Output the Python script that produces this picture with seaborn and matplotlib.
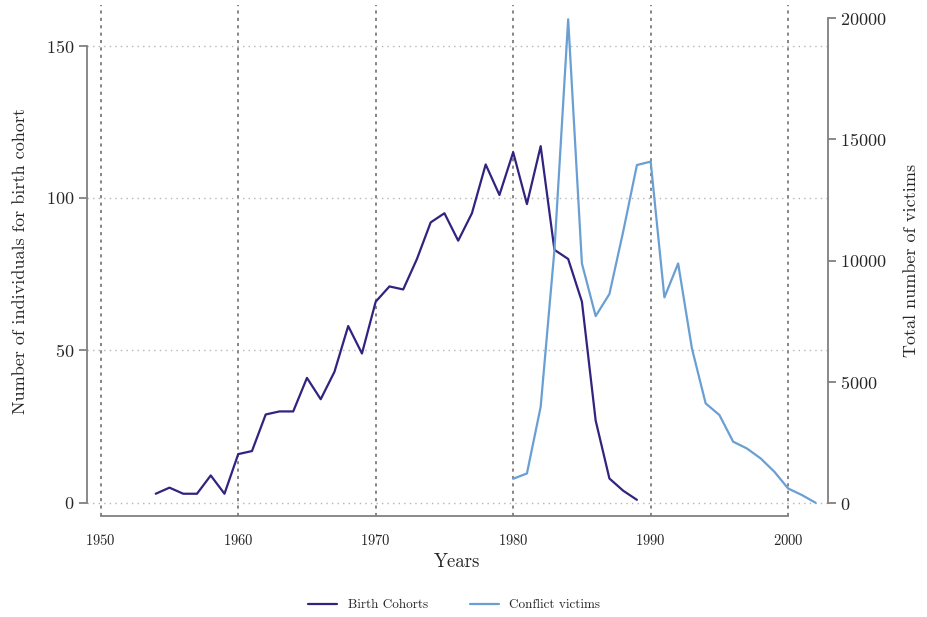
import pandas as pd
import seaborn as sns
import matplotlib.pyplot as plt

# Birth cohort counts per year (left axis)
cohort_years = list(range(1954, 1990))
cohort_counts = [3, 5, 3, 3, 9, 3, 16, 17, 29, 30, 30, 41, 34, 43, 58, 49,
                 66, 71, 70, 80, 92, 95, 86, 95, 111, 101, 115, 98, 117, 83,
                 80, 66, 27, 8, 4, 1]

# Conflict victims per year (right axis)
victim_years = list(range(1980, 2003))
victim_counts = [1000, 1220, 3970, 10430, 19950, 9880, 7710, 8620, 11190,
                 13940, 14080, 8480, 9880, 6380, 4110, 3630, 2530, 2250,
                 1840, 1290, 600, 330, 10]

cohorts = pd.DataFrame({"year": cohort_years, "n": cohort_counts})
victims = pd.DataFrame({"year": victim_years, "n": victim_counts})

sns.set_style("white")
plt.rcParams["font.family"] = "serif"
plt.rcParams["font.serif"] = ["cmr10", "DejaVu Serif"]
plt.rcParams["axes.formatter.use_mathtext"] = True
plt.rcParams["mathtext.fontset"] = "cm"

fig = plt.figure(figsize=(9.27, 6.17), dpi=100)
ax = fig.add_axes([87 / 927, 1 - 516 / 617, (828 - 87) / 927, (516 - 5) / 617])
ax2 = ax.twinx()

c_birth = "#31237f"
c_vict = "#6a9fd3"

sns.lineplot(data=cohorts, x="year", y="n", ax=ax, color=c_birth, lw=1.6,
             label="Birth Cohorts", legend=False)
sns.lineplot(data=victims, x="year", y="n", ax=ax2, color=c_vict, lw=1.6,
             label="Conflict victims", legend=False)

ax.set_xlim(1949.0, 2002.9)
ax.set_ylim(-4.3, 163.3)
ax2.set_ylim(-535, 20540)

# grid lines
for yv in [0, 50, 100, 150]:
    ax.axhline(yv, color="#b5b5b5", lw=1, ls=(0, (1, 3)), zorder=0)
for xv in range(1950, 2001, 10):
    ax.axvline(xv, color="#858585", lw=1.4, ls=(0, (1.6, 2.2)), zorder=0)

ax.set_xticks(range(1950, 2001, 10))
ax.set_yticks([0, 50, 100, 150])
ax2.set_yticks([0, 5000, 10000, 15000, 20000])

for a in (ax, ax2):
    for s in a.spines.values():
        s.set_color("#808080")
        s.set_linewidth(1.3)
    a.spines["top"].set_visible(False)
ax.spines["right"].set_visible(False)
ax2.spines["left"].set_visible(False)
ax2.spines["bottom"].set_visible(False)
ax.spines["left"].set_bounds(0, 150)
ax2.spines["right"].set_bounds(0, 20000)
ax.spines["bottom"].set_bounds(1950, 2000)

ax.tick_params(axis="x", direction="out", length=6, width=1.3, color="#808080",
               labelsize=10.5, pad=6)
ax.tick_params(axis="y", direction="out", length=6, width=1.3, color="#808080",
               labelsize=13, pad=3)
ax2.tick_params(axis="y", direction="out", length=6, width=1.3, color="#808080",
                labelsize=13, pad=3)

ax.set_xlabel("Years", fontsize=13.5, labelpad=4)
ax.set_ylabel("Number of individuals for birth cohort", fontsize=13, labelpad=13)
ax2.set_ylabel("Total number of victims", fontsize=13, labelpad=12)

h1, l1 = ax.get_legend_handles_labels()
h2, l2 = ax2.get_legend_handles_labels()
fig.legend(h1 + h2, l1 + l2, loc="center", bbox_to_anchor=(0.49, 1 - 605 / 617),
           ncol=2, frameon=False, fontsize=9.5, handlelength=2.2,
           columnspacing=3.2)

fig.savefig("out.png", dpi=100)
